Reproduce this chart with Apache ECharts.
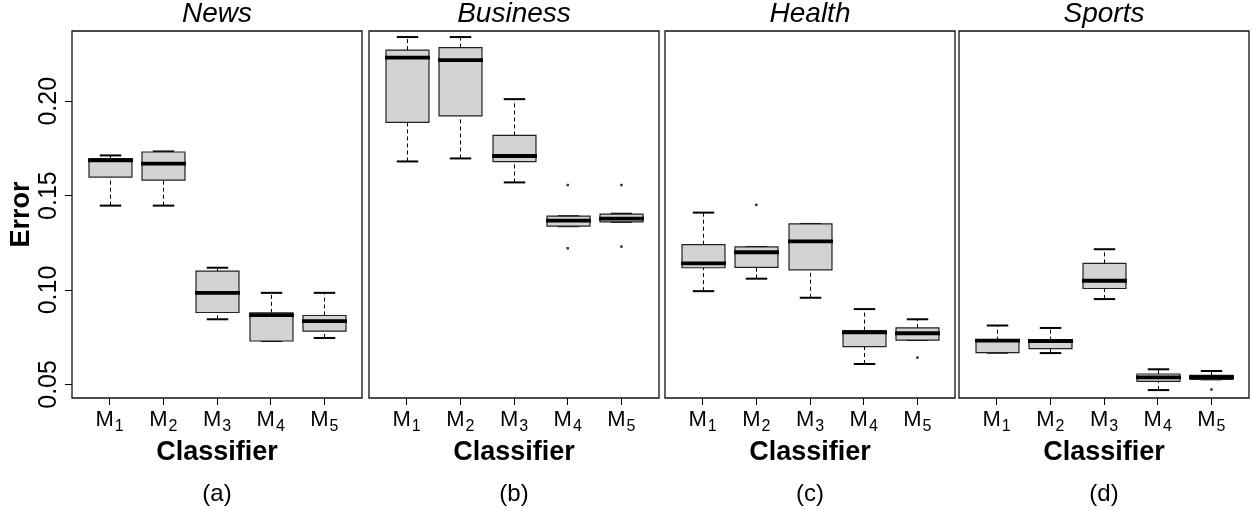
<!DOCTYPE html>
<html>
<head>
<meta charset="utf-8">
<script src="https://cdn.jsdelivr.net/npm/echarts@6/dist/echarts.min.js"></script>
<style>
  html, body { margin: 0; padding: 0; background: #fff; }
  #chart { width: 1253px; height: 510px; }
</style>
</head>
<body>
<div id="chart"></div>
<script>
// classifiers M1..M5 (x positions)
const classifiers = [1, 2, 3, 4, 5];
const yTicks = [0.05, 0.10, 0.15, 0.20];
const panelTitles = ['News', 'Business', 'Health', 'Sports'];
const panelTags = ['(a)', '(b)', '(c)', '(d)'];

// each box: [lower whisker, Q1, median, Q3, upper whisker]
const newsBoxes = [
  [0.1447, 0.1598, 0.1687, 0.1696, 0.1713],
  [0.1447, 0.1582, 0.1669, 0.1731, 0.1734],
  [0.0845, 0.0881, 0.0985, 0.1100, 0.1118],
  [0.0730, 0.0730, 0.0867, 0.0879, 0.0985],
  [0.0746, 0.0782, 0.0835, 0.0865, 0.0985]
];
const businessBoxes = [
  [0.1681, 0.1888, 0.2231, 0.2271, 0.2340],
  [0.1697, 0.1922, 0.2218, 0.2284, 0.2340],
  [0.1570, 0.1680, 0.1710, 0.1819, 0.2011],
  [0.1338, 0.1338, 0.1368, 0.1391, 0.1391],
  [0.1361, 0.1361, 0.1378, 0.1402, 0.1404]
];
const healthBoxes = [
  [0.0994, 0.1118, 0.1141, 0.1240, 0.1410],
  [0.1060, 0.1120, 0.1200, 0.1228, 0.1228],
  [0.0959, 0.1107, 0.1258, 0.1350, 0.1350],
  [0.0608, 0.0700, 0.0776, 0.0785, 0.0899],
  [0.0735, 0.0735, 0.0771, 0.0799, 0.0845]
];
const sportsBoxes = [
  [0.0668, 0.0668, 0.0732, 0.0732, 0.0812],
  [0.0666, 0.0690, 0.0730, 0.0732, 0.0799],
  [0.0952, 0.1008, 0.1049, 0.1141, 0.1216],
  [0.0470, 0.0516, 0.0537, 0.0555, 0.0580],
  [0.0527, 0.0527, 0.0539, 0.0548, 0.0571]
];

// outliers: [classifier, value]
const newsOutliers = [];
const businessOutliers = [[4, 0.1556], [4, 0.1221], [5, 0.1556], [5, 0.1230]];
const healthOutliers = [[2, 0.1451], [5, 0.0642]];
const sportsOutliers = [[5, 0.0473]];

const allBoxes = [newsBoxes, businessBoxes, healthBoxes, sportsBoxes];
const allOutliers = [newsOutliers, businessOutliers, healthOutliers, sportsOutliers];

const FONT = '"Liberation Sans", Arial, Helvetica, sans-serif';
const panelLeft = [72, 369, 665, 959];
const panelWidth = 290;
const plotTop = 31;
const plotHeight = 367;
const yMin = 0.0428, yMax = 0.2372;

function renderBox(params, api) {
  const x = api.value(0);
  const lo = api.coord([x, api.value(1)]);
  const q1 = api.coord([x, api.value(2)]);
  const med = api.coord([x, api.value(3)]);
  const q3 = api.coord([x, api.value(4)]);
  const hi = api.coord([x, api.value(5)]);
  const w = api.size([0.8, 0])[0];
  const cx = Math.round(lo[0]) + 0.5;
  const dash = { stroke: '#000', lineWidth: 1, lineDash: [4, 3] };
  const cap = { stroke: '#000', lineWidth: 2 };
  return {
    type: 'group',
    children: [
      { type: 'line', shape: { x1: cx, y1: q3[1], x2: cx, y2: hi[1] }, style: dash },
      { type: 'line', shape: { x1: cx, y1: lo[1], x2: cx, y2: q1[1] }, style: dash },
      { type: 'line', shape: { x1: cx - w / 4, y1: hi[1], x2: cx + w / 4, y2: hi[1] }, style: cap },
      { type: 'line', shape: { x1: cx - w / 4, y1: lo[1], x2: cx + w / 4, y2: lo[1] }, style: cap },
      { type: 'rect', shape: { x: cx - w / 2, y: q3[1], width: w, height: q1[1] - q3[1] },
        style: { fill: '#d3d3d3', stroke: '#222', lineWidth: 1.2 } },
      { type: 'line', shape: { x1: cx - w / 2 - 1, y1: med[1], x2: cx + w / 2 + 1, y2: med[1] },
        style: { stroke: '#000', lineWidth: 3.8 } }
    ]
  };
}

const grids = [], xAxes = [], yAxes = [], series = [], graphics = [];
for (let p = 0; p < 4; p++) {
  grids.push({
    left: panelLeft[p], top: plotTop, width: panelWidth, height: plotHeight,
    show: true, borderColor: '#111', borderWidth: 1.3, backgroundColor: 'transparent'
  });
  xAxes.push({
    type: 'value', gridIndex: p, min: 0.3, max: 5.7,
    name: 'Classifier', nameLocation: 'middle', nameGap: 41,
    nameTextStyle: { fontFamily: FONT, fontWeight: 'bold', fontSize: 27, color: '#000' },
    axisLine: { show: false }, splitLine: { show: false },
    axisTick: { show: true, length: 7, customValues: classifiers, lineStyle: { color: '#000', width: 1 } },
    axisLabel: {
      customValues: classifiers, margin: 11,
      formatter: v => '{m|M}{s|' + v + '}',
      rich: {
        m: { fontFamily: FONT, fontSize: 22, color: '#000', lineHeight: 22 },
        s: { fontFamily: FONT, fontSize: 16, color: '#000', lineHeight: 16, padding: [13, 0, 0, 1] }
      }
    }
  });
  yAxes.push({
    type: 'value', gridIndex: p, min: yMin, max: yMax, show: p === 0,
    name: p === 0 ? 'Error' : '', nameLocation: 'middle', nameGap: 37,
    nameTextStyle: { fontFamily: FONT, fontWeight: 'bold', fontSize: 27, color: '#000' },
    axisLine: { show: false }, splitLine: { show: false },
    axisTick: { show: true, length: 7, customValues: yTicks, lineStyle: { color: '#000', width: 1 } },
    axisLabel: {
      customValues: yTicks, rotate: 90, margin: 10,
      fontFamily: FONT, fontSize: 25, color: '#000',
      formatter: v => v.toFixed(2)
    }
  });
  series.push({
    type: 'custom', xAxisIndex: p, yAxisIndex: p,
    data: allBoxes[p].map((b, i) => [classifiers[i]].concat(b)),
    renderItem: renderBox, encode: { x: 0, y: [1, 2, 3, 4, 5] }, silent: true
  });
  series.push({
    type: 'scatter', xAxisIndex: p, yAxisIndex: p, data: allOutliers[p],
    symbol: 'rect', symbolSize: 2.5, itemStyle: { color: '#000' }, silent: true
  });
  graphics.push({
    type: 'text', x: panelLeft[p] + panelWidth / 2, y: 14,
    style: { text: panelTitles[p], font: 'italic 28px ' + FONT, fill: '#000', align: 'center', verticalAlign: 'middle' }
  });
  graphics.push({
    type: 'text', x: panelLeft[p] + panelWidth / 2, y: 494,
    style: { text: panelTags[p], font: '24px ' + FONT, fill: '#000', align: 'center', verticalAlign: 'middle' }
  });
}

const chart = echarts.init(document.getElementById('chart'), null, { renderer: 'canvas' });
chart.setOption({
  animation: false,
  backgroundColor: '#fff',
  grid: grids,
  xAxis: xAxes,
  yAxis: yAxes,
  series: series,
  graphic: graphics
});
</script>
</body>
</html>
